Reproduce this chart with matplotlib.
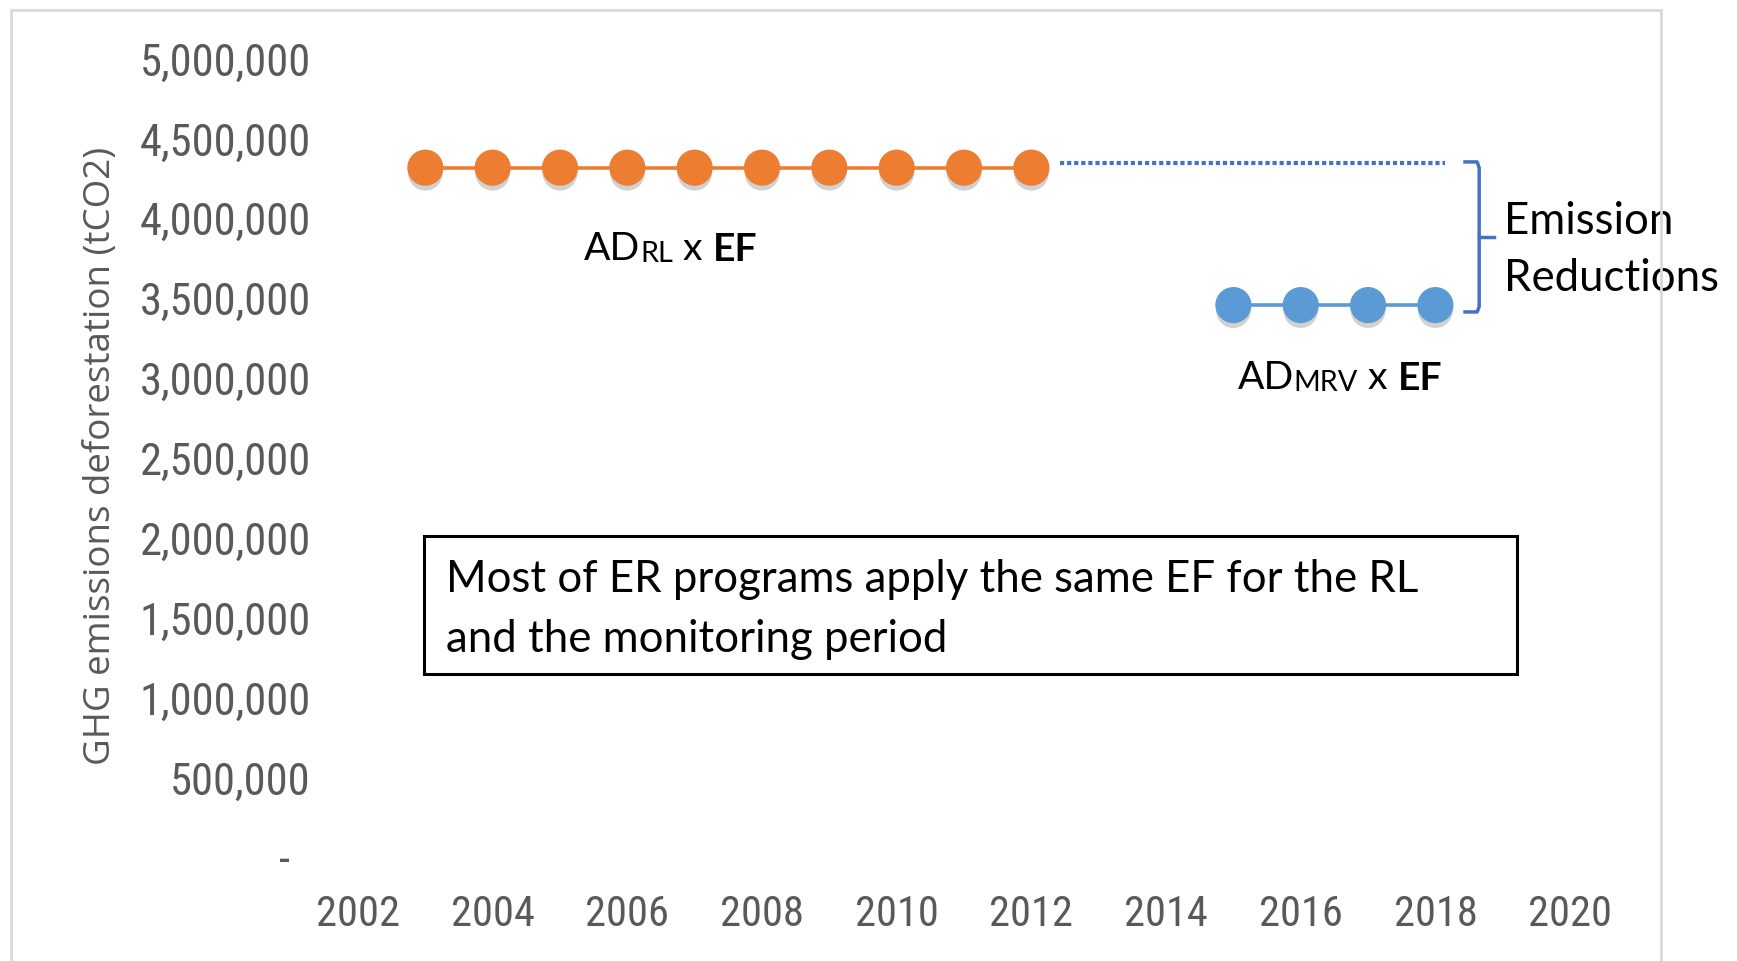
import matplotlib
matplotlib.use("Agg")
import matplotlib.pyplot as plt
import matplotlib.patheffects as pe
from matplotlib.patches import Rectangle
from matplotlib.ticker import FuncFormatter, MultipleLocator

# data
years_rl = [2003, 2004, 2005, 2006, 2007, 2008, 2009, 2010, 2011, 2012]
emissions_rl = [4320000, 4320000, 4320000, 4320000, 4320000,
                4320000, 4320000, 4320000, 4320000, 4320000]
years_mrv = [2015, 2016, 2017, 2018]
emissions_mrv = [3460000, 3460000, 3460000, 3460000]
rl_projection_years = [2012.42, 2018.15]
rl_projection_level = [4350000, 4350000]

ORANGE = "#ED7D31"
BLUE = "#5B9BD5"
DARK_BLUE = "#4472C4"
GREY = "#595959"

tick_font = ["Roboto Condensed", "Lato"]
note_font = ["Lato", "DejaVu Sans"]

fig = plt.figure(figsize=(17.37, 9.61), dpi=100)
ax = fig.add_axes([0.2061, 0.1072, 0.6978, 0.8314])

# outer chart border
fig.patches.append(Rectangle((0.0065, -0.05), 0.950, 1.04, transform=fig.transFigure,
                             fill=False, edgecolor="#D9D9D9", linewidth=2))

shadow = [pe.SimplePatchShadow(offset=(0, -4), shadow_rgbFace="k", alpha=0.18), pe.Normal()]

ax.plot(years_rl, emissions_rl, color=ORANGE, lw=2.6, marker="o", markersize=25,
        path_effects=shadow, zorder=3)
ax.plot(years_mrv, emissions_mrv, color=BLUE, lw=2.6, marker="o", markersize=25,
        path_effects=shadow, zorder=3)
ax.plot(rl_projection_years, rl_projection_level, color=DARK_BLUE, lw=3,
        linestyle=(0, (1.0, 0.7)), zorder=2)

ax.set_xlim(2002, 2020)
ax.set_ylim(0, 5000000)
ax.xaxis.set_major_locator(MultipleLocator(2))
ax.yaxis.set_major_locator(MultipleLocator(500000))
ax.yaxis.set_major_formatter(FuncFormatter(lambda v, p: "-  " if v == 0 else f"{v:,.0f}"))
for s in ax.spines.values():
    s.set_visible(False)
ax.tick_params(length=0, colors=GREY)
ax.tick_params(axis="y", pad=34, labelsize=32)
ax.tick_params(axis="x", pad=26, labelsize=30.5)
for lab in ax.get_xticklabels() + ax.get_yticklabels():
    lab.set_family(tick_font)

ax.set_ylabel("GHG emissions deforestation (tCO2)", fontsize=26.5, color=GREY,
              family=["Open Sans", "DejaVu Sans"])
ax.yaxis.set_label_coords(-0.197, 0.503)


def chain_text(x, y, parts):
    t = ax.text(x, y, parts[0][0], va="bottom", **parts[0][1])
    for s, kw in parts[1:]:
        t = ax.annotate(s, xy=(1, 0), xycoords=t, va="bottom", **kw)


big = dict(fontsize=28.2, family=note_font, color="black")
small = dict(fontsize=20.8, family=note_font, color="black")
bold = dict(fontsize=28.2, family=note_font, color="black", fontweight="bold")

chain_text(2005.36, 3700000, [("AD", big), ("RL", small), (" x ", big), ("EF", bold)])
chain_text(2015.06, 2890000, [("AD", big), ("MRV", small), (" x ", big), ("EF", bold)])

# brace marking the emission reductions
ax.plot([2018.44, 2018.62, 2018.65, 2018.65, 2018.62, 2018.44],
        [4356000, 4356000, 4320000, 3450000, 3417000, 3417000],
        color=DARK_BLUE, lw=2.5, solid_joinstyle="round", clip_on=False)
ax.plot([2018.65, 2018.87], [3886000, 3886000], color=DARK_BLUE, lw=2.5, clip_on=False)
ax.text(2019.02, 3805000, "Emission\nReductions", fontsize=31.5, family=note_font,
        va="center", ha="left", linespacing=1.46, clip_on=False)

# note box
ax.add_patch(Rectangle((2002.98, 1151000), 16.23, 864000, fill=False,
                       edgecolor="black", linewidth=2.2, zorder=4))
ax.text(2003.31, 1555000, "Most of ER programs apply the same EF for the RL\nand the monitoring period",
        fontsize=31.5, family=note_font, va="center", ha="left", linespacing=1.55)

fig.savefig("out.png", dpi=100)
